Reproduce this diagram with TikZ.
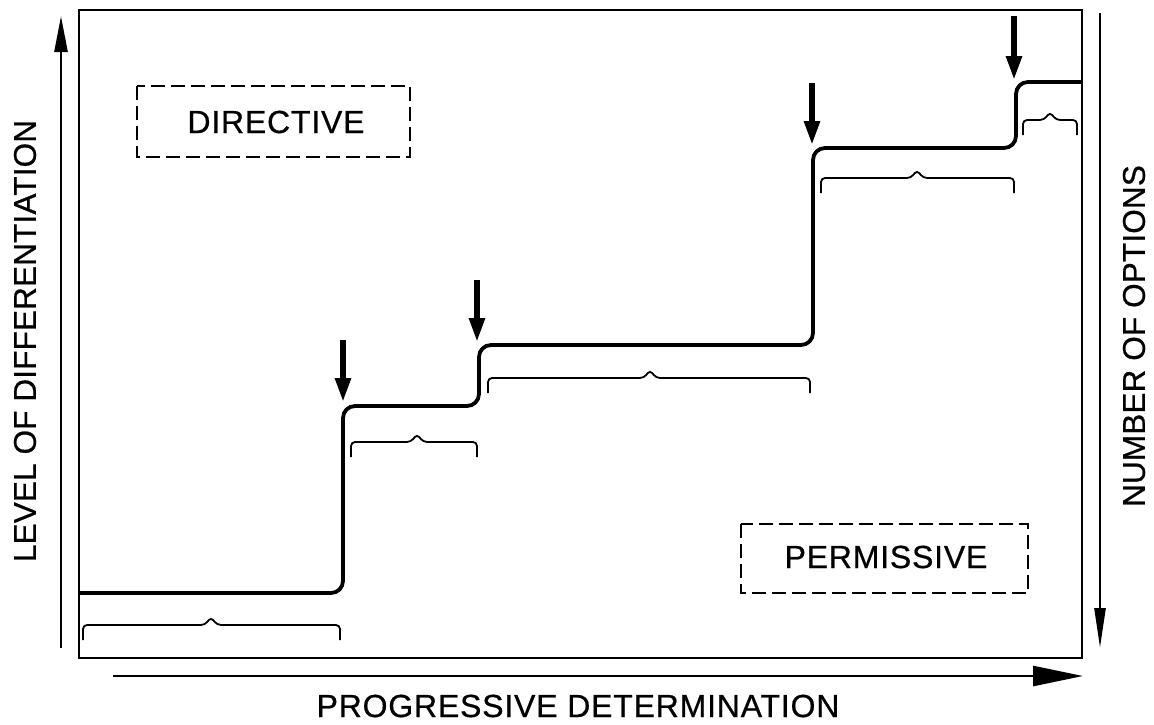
\documentclass[tikz,border=0pt]{standalone}
\usepackage{fontspec}
\setmainfont{Liberation Sans}[FakeBold=0.6, LetterSpace=2.5]
\newfontfamily\vertfont{Liberation Sans}[FakeBold=0.6, LetterSpace=0.5]
\usetikzlibrary{arrows.meta}
\begin{document}
\begin{tikzpicture}[x=1pt,y=-1pt,
  lab/.style={font=\fontsize{32}{36}\selectfont, inner sep=0pt},
  vlab/.style={font=\vertfont\fontsize{31.5}{36}\selectfont, inner sep=0pt, rotate=90},
  dbox/.style={draw, dash pattern=on 14pt off 6pt, line width=2.2pt},
  frame/.style={draw, line width=1.8pt},
  stepline/.style={line width=3.8pt, rounded corners=12pt},
  axis/.style={line width=2.6pt},
  downarrow/.style={line width=5.5pt, -{Triangle[length=24pt,width=15pt]}},
  bracepath/.style={line width=1.8pt, rounded corners=4pt},
]
\useasboundingbox (0,0) rectangle (1154,724);
% frame
\draw[frame] (79,10) rectangle (1082,658);
% axes
\coordinate (ly0) at (61,648); \coordinate (ly1) at (61,16);
\draw[axis, -{Triangle[length=36pt,width=13pt]}] (ly0) -- (ly1);
\coordinate (ry0) at (1100,13); \coordinate (ry1) at (1100,648);
\draw[axis, -{Triangle[length=40pt,width=11pt]}] (ry0) -- (ry1);
\coordinate (bx0) at (113,676); \coordinate (bx1) at (1083,676);
\draw[axis, -{Triangle[length=50pt,width=20pt]}] (bx0) -- (bx1);
% labels
\node[vlab] (ylab) at (25,341) {LEVEL OF DIFFERENTIATION};
\node[vlab] (rlab) at (1134,336) {NUMBER OF OPTIONS};
\node[lab] (xlab) at (578,706) {PROGRESSIVE DETERMINATION};
% dashed boxes
\draw[dbox] (137,86) rectangle (410,157);
\node[lab] (dir) at (276,122) {DIRECTIVE};
\draw[dbox] (741,524) rectangle (1028,593);
\node[lab] (perm) at (886,557) {PERMISSIVE};
% step curve
\coordinate (s0) at (79,593);
\coordinate (s1) at (343,593);
\coordinate (s2) at (343,406);
\coordinate (s3) at (479,406);
\coordinate (s4) at (479,345);
\coordinate (s5) at (813,345);
\coordinate (s6) at (813,148);
\coordinate (s7) at (1016,148);
\coordinate (s8) at (1016,82);
\coordinate (s9) at (1082,82);
\draw[stepline] (s0) -- (s1) -- (s2) -- (s3) -- (s4) -- (s5) -- (s6) -- (s7) -- (s8) -- (s9);
% down arrows
\coordinate (a1) at (343,340); \coordinate (b1) at (343,402);
\coordinate (a2) at (477,280); \coordinate (b2) at (477,342);
\coordinate (a3) at (812,83);  \coordinate (b3) at (812,145);
\coordinate (a4) at (1014,16); \coordinate (b4) at (1014,80);
\draw[downarrow] (a1) -- (b1);
\draw[downarrow] (a2) -- (b2);
\draw[downarrow] (a3) -- (b3);
\draw[downarrow] (a4) -- (b4);
% braces
\newcommand{\mybrace}[4]{% x1, x2, y, xm
  \draw[bracepath] (#1,#3+15) -- (#1,#3) -- (#4-6,#3) -- (#4,#3-8) -- (#4+6,#3) -- (#2,#3) -- (#2,#3+15);}
\mybrace{83}{340}{625}{211}
\mybrace{351}{477}{442}{417}
\mybrace{488}{810}{378}{650}
\mybrace{821}{1014}{178}{917}
\mybrace{1023}{1077}{120}{1050}
\end{tikzpicture}
\end{document}
